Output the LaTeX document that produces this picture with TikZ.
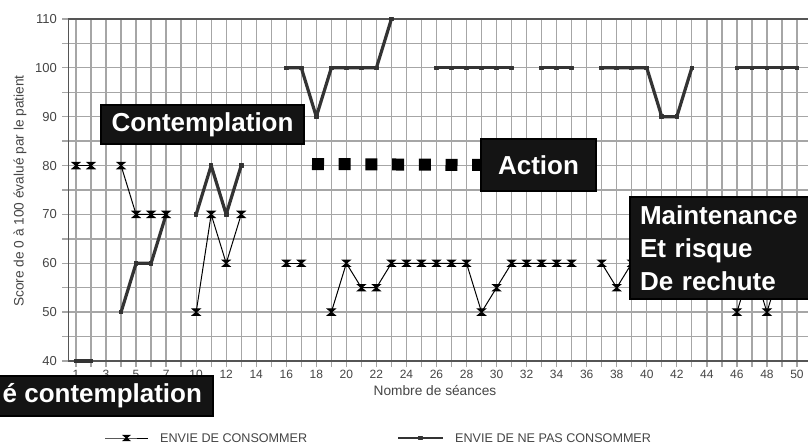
\documentclass[tikz,border=0pt]{standalone}
\usepackage{fontspec}
\setmainfont{Liberation Sans}
\usetikzlibrary{plotmarks,positioning}

\definecolor{gris}{HTML}{A6A6A6}
\definecolor{grisfonce}{HTML}{555555}
\definecolor{texte}{HTML}{454545}
\definecolor{fond}{HTML}{141414}
\definecolor{epais}{HTML}{333333}

\pgfdeclareplotmark{sablier}{%
  \pgfpathmoveto{\pgfpoint{-1.2\pgfplotmarksize}{\pgfplotmarksize}}
  \pgfpathlineto{\pgfpoint{1.2\pgfplotmarksize}{\pgfplotmarksize}}
  \pgfpathlineto{\pgfpoint{-1.2\pgfplotmarksize}{-\pgfplotmarksize}}
  \pgfpathlineto{\pgfpoint{1.2\pgfplotmarksize}{-\pgfplotmarksize}}
  \pgfpathclose
  \pgfusepathqfillstroke}

\tikzset{
  quadrillage/.style={draw=gris, line width=1.3pt},
  axe/.style={draw=grisfonce, line width=1.6pt},
  graduation/.style={text=texte, inner sep=1pt},
  titre/.style={text=texte, font=\fontsize{13.7}{16}\selectfont},
  legende/.style={text=texte, inner sep=0pt, font=\fontsize{12.6}{15}\selectfont},
  consommer/.style={draw=black, line width=1pt, mark=sablier, mark size=3.2pt,
    mark options={fill=black}},
  nepas/.style={draw=epais, line width=3.2pt, line join=round, mark=square*,
    mark size=1.8pt, mark options={fill=epais, line width=1pt}},
  etiquette/.style={fill=fond, draw=black, line width=2pt, text=white, inner sep=0pt,
    font=\fontsize{26}{32.7}\selectfont\bfseries},
  carres/.style={draw=black, line width=12pt, dash pattern=on 12pt off 14.7pt}
}

\begin{document}
\begin{tikzpicture}[x=1pt,y=1pt]
\useasboundingbox[fill=white] (0,0) rectangle (808,445);

\begin{scope}[shift={(76pt,-111.44pt)},x=15.02pt,y=4.886pt]
  % grille
  \foreach \v in {40,45,...,110}
    \draw[quadrillage] (-0.93,\v) -- (48.73,\v);
  \foreach \i in {0,...,48}
    \draw[quadrillage] (\i,38.77) -- (\i,110);
  \draw[axe] (48.73,110) -- (-0.5,110) -- (-0.5,40) -- (48.73,40);

  % graduations
  \foreach \i [evaluate=\i as \lab using {int(\i<8 ? \i+1 : \i+2)}] in {0,2,...,48}
    \node[graduation, anchor=north, font=\fontsize{12}{14}\selectfont] at ([yshift=-8pt]\i,40) {\lab};
  \foreach \v in {40,50,...,110}
    \node[graduation, anchor=east, font=\fontsize{13}{15}\selectfont] at ([xshift=-10.5pt]-0.5,\v) {\v};

  % envie de ne pas consommer
  \draw[nepas] plot coordinates {(0,40) (1,40)};
  \draw[nepas] plot coordinates {(3,50) (4,60) (5,60) (6,70)};
  \draw[nepas] plot coordinates {(8,70) (9,80) (10,70) (11,80)};
  \draw[nepas] plot coordinates {(14,100) (15,100) (16,90) (17,100) (18,100) (19,100) (20,100) (21,110)};
  \draw[nepas] plot coordinates {(24,100) (25,100) (26,100) (27,100) (28,100) (29,100)};
  \draw[nepas] plot coordinates {(31,100) (32,100) (33,100)};
  \draw[nepas] plot coordinates {(35,100) (36,100) (37,100) (38,100) (39,90) (40,90) (41,100)};
  \draw[nepas] plot coordinates {(44,100) (45,100) (46,100) (47,100) (48,100)};

  % envie de consommer
  \draw[consommer] plot coordinates {(0,80) (1,80)};
  \draw[consommer] plot coordinates {(3,80) (4,70) (5,70) (6,70)};
  \draw[consommer] plot coordinates {(8,50) (9,70) (10,60) (11,70)};
  \draw[consommer] plot coordinates {(14,60) (15,60)};
  \draw[consommer] plot coordinates {(17,50) (18,60) (19,55) (20,55) (21,60) (22,60) (23,60)
    (24,60) (25,60) (26,60) (27,50) (28,55) (29,60) (30,60) (31,60) (32,60) (33,60)};
  \draw[consommer] plot coordinates {(35,60) (36,55) (37,60) (38,60) (39,60) (40,60) (41,60)};
  \draw[consommer] plot coordinates {(44,50) (45,60) (46,50) (47,60) (48,60)};
\end{scope}

% titres des axes
\node[titre] (xtitre) at (435,54) {Nombre de séances};
\node[titre, rotate=90] (ytitre) at (20,254) {Score de 0 à 100 évalué par le patient};

% legende
\node[legende, anchor=west] (legA) at (160,7) {ENVIE DE CONSOMMER};
\draw[consommer, mark size=2.6pt, mark indices={2}] plot coordinates
  {([xshift=-55pt]legA.west) ([xshift=-33.5pt]legA.west) ([xshift=-12pt]legA.west)};
\node[legende, anchor=west] (legB) at (455,7) {ENVIE DE NE PAS CONSOMMER};
\draw[nepas, line width=2pt, mark indices={2}] plot coordinates
  {([xshift=-57pt]legB.west) ([xshift=-34.5pt]legB.west) ([xshift=-12pt]legB.west)};

% etapes
\node[etiquette, minimum width=203, minimum height=39] (contemplation) at (202.5,320.5) {Contemplation};
\node[etiquette, minimum width=115, minimum height=52] (action) at (538.5,280) {Action};
\coordinate (debut) at (312,281);
\draw[carres] (debut) -- (action.west);
\node[etiquette, align=left, anchor=north west, text width=182, inner xsep=10, inner ysep=9]
  (maintenance) at (629,249) {Maintenance\\Et risque\\De rechute};
\node[etiquette, anchor=east, minimum height=40, inner xsep=11] (precontemplation) at (214,49) {é contemplation};
\end{tikzpicture}
\end{document}
